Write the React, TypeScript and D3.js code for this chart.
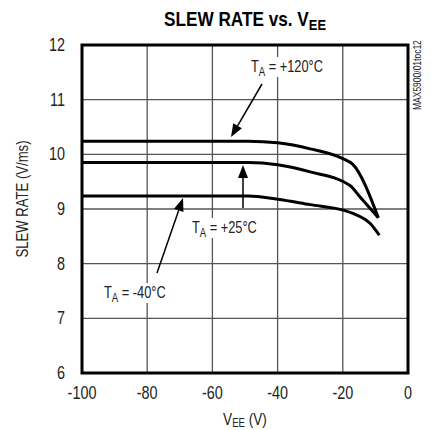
import React from "react";
import * as d3 from "d3";

const xTicks = [-100, -80, -60, -40, -20, 0];
const yTicks = [6, 7, 8, 9, 10, 11, 12];

const vee120 = [-100, -60, -49, -40, -30, -20, -17, -9.1];
const sr120 = [10.24, 10.24, 10.24, 10.21, 10.1, 9.92, 9.82, 8.84];

const vee25 = [-100, -60, -49, -40, -30, -17.8, -14.7, -9.1];
const sr25 = [9.85, 9.85, 9.85, 9.81, 9.68, 9.43, 9.22, 8.84];

const veeM40 = [-100, -60, -49, -40, -30, -19.9, -16.9, -11.5, -8.8];
const srM40 = [9.24, 9.24, 9.24, 9.18, 9.08, 8.98, 8.92, 8.73, 8.52];

const FONT = "'Liberation Sans', Arial, sans-serif";
const SX = 0.8;

export default function App() {
  const W = 433, H = 430;
  const left = 82, right = 408, top = 45, bottom = 373;
  const x = d3.scaleLinear().domain([-100, 0]).range([left, right]);
  const y = d3.scaleLinear().domain([6, 12]).range([bottom, top]);
  const line = d3
    .line<[number, number]>()
    .x((d) => x(d[0]))
    .y((d) => y(d[1]))
    .curve(d3.curveMonotoneX);
  const series = [
    vee120.map((v, i) => [v, sr120[i]] as [number, number]),
    vee25.map((v, i) => [v, sr25[i]] as [number, number]),
    veeM40.map((v, i) => [v, srM40[i]] as [number, number]),
  ];

  const arrow = (x1: number, y1: number, x2: number, y2: number) => {
    const ang = Math.atan2(y2 - y1, x2 - x1);
    const len = 13, hw = 5;
    const bx = x2 - len * Math.cos(ang), by = y2 - len * Math.sin(ang);
    const px = -Math.sin(ang) * hw, py = Math.cos(ang) * hw;
    return (
      <g>
        <line x1={x1} y1={y1} x2={bx} y2={by} stroke="#000" strokeWidth={1.5} />
        <polygon points={`${x2},${y2} ${bx + px},${by + py} ${bx - px},${by - py}`} fill="#000" />
      </g>
    );
  };

  const label = (tx: number, ty: number, temp: string, bw: number) => (
    <g>
      <rect x={tx - 3} y={ty - 15} width={bw} height={20} fill="#fff" />
      <text transform={`translate(${tx},${ty}) scale(${SX},1)`} fontSize={16} fontFamily={FONT} fill="#222">
        T<tspan fontSize={12} dy={4}>A</tspan>
        <tspan dy={-4}> = {temp}</tspan>
      </text>
    </g>
  );

  return (
    <svg width={W} height={H} style={{ display: "block", position: "absolute", left: 0, top: 0 }}>
      <rect width={W} height={H} fill="#fff" />
      <text transform={`translate(245,26) scale(0.86,1)`} textAnchor="middle" fontSize={20} fontWeight="bold" fontFamily={FONT} fill="#000">
        SLEW RATE vs. V<tspan fontSize={15} dy={4}>EE</tspan>
      </text>
      {xTicks.slice(1, -1).map((t) => (
        <line key={"gx" + t} x1={x(t)} x2={x(t)} y1={top} y2={bottom} stroke="#555" strokeWidth={1.3} />
      ))}
      {yTicks.slice(1, -1).map((t) => (
        <line key={"gy" + t} x1={left} x2={right} y1={y(t)} y2={y(t)} stroke="#555" strokeWidth={1.3} />
      ))}
      {series.map((s, i) => (
        <path key={i} d={line(s) || ""} fill="none" stroke="#000" strokeWidth={3} strokeLinejoin="round" />
      ))}
      {label(251, 72, "+120°C", 84)}
      {label(192, 233, "+25°C", 75)}
      {label(104, 298, "-40°C", 74)}
      {arrow(262, 84, 231, 137)}
      {arrow(243, 208, 243, 165)}
      {arrow(157, 273, 183, 198)}
      <rect x={left} y={top} width={right - left} height={bottom - top} fill="none" stroke="#000" strokeWidth={3} />
      {xTicks.map((t) => (
        <text key={"xt" + t} transform={`translate(${x(t)},399) scale(${SX},1)`} textAnchor="middle" fontSize={18} fontFamily={FONT} fill="#222">
          {t === 0 ? "0" : "-" + Math.abs(t)}
        </text>
      ))}
      {yTicks.map((t) => (
        <text key={"yt" + t} transform={`translate(65,${y(t) + 6}) scale(${SX},1)`} textAnchor="end" fontSize={18} fontFamily={FONT} fill="#222">
          {t}
        </text>
      ))}
      <text transform={`translate(245,425) scale(${SX},1)`} textAnchor="middle" fontSize={17} fontFamily={FONT} fill="#222">
        V<tspan fontSize={12} dy={2}>EE</tspan>
        <tspan dy={-2}> (V)</tspan>
      </text>
      <text transform="translate(28,199) rotate(-90) scale(0.82,1)" textAnchor="middle" fontSize={16} fontFamily={FONT} fill="#222">
        SLEW RATE (V/ms)
      </text>
      <text transform="translate(421,110) rotate(-90) scale(0.85,1)" textAnchor="start" fontSize={10} fontFamily={FONT} fill="#222">
        MAX5900/01toc12
      </text>
    </svg>
  );
}
